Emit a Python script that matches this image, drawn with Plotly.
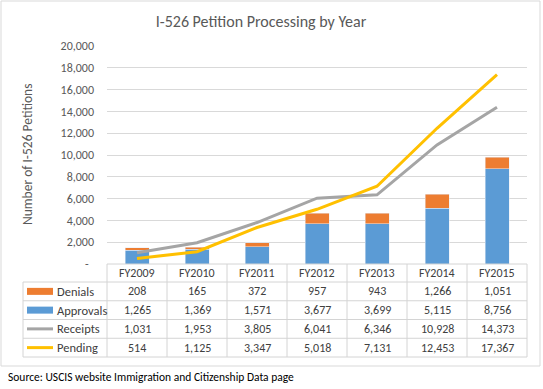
import plotly.graph_objects as go

categories = ["FY2009", "FY2010", "FY2011", "FY2012", "FY2013", "FY2014", "FY2015"]
denials = [208, 165, 372, 957, 943, 1266, 1051]
approvals = [1265, 1369, 1571, 3677, 3699, 5115, 8756]
receipts = [1031, 1953, 3805, 6041, 6346, 10928, 14373]
pending = [514, 1125, 3347, 5018, 7131, 12453, 17367]
ytick_vals = list(range(0, 20001, 2000))
ytick_text = ["-\u00a0\u00a0"] + [f"{v:,}" for v in ytick_vals[1:]]

W, H = 543, 389
L, R, T, B = 107, 527, 46, 264
FONT = "Carlito, Calibri, Liberation Sans, Arial, sans-serif"
TXT = "#404040"
GRID = "#d9d9d9"
BORDER = "#d4d4d4"

def xp(px):
    return (px - L) / (R - L)

def yp(py):
    return (B - py) / (B - T)

fig = go.Figure()
fig.add_trace(go.Bar(x=categories, y=approvals, name="Approvals", marker_color="#5b9bd5", width=0.4))
fig.add_trace(go.Bar(x=categories, y=denials, name="Denials", marker_color="#ed7d31", width=0.4))
fig.add_trace(go.Scatter(x=categories, y=receipts, name="Receipts", mode="lines",
                         line=dict(color="#a5a5a5", width=3)))
fig.add_trace(go.Scatter(x=categories, y=pending, name="Pending", mode="lines",
                         line=dict(color="#ffc000", width=3)))

shapes = []
annotations = []

# outer frame
shapes.append(dict(type="rect", xref="paper", yref="paper", x0=xp(1), x1=xp(540), y0=yp(1), y1=yp(366),
                   line=dict(color=GRID, width=1), fillcolor="rgba(0,0,0,0)", layer="below"))

# table geometry
row_edges = [264, 282, 300.75, 319.5, 338.25, 357]
tbl_left = 23
n = len(categories)
shapes.append(dict(type="line", xref="paper", yref="paper", x0=0, x1=1, y0=yp(row_edges[0]), y1=yp(row_edges[0]),
                   line=dict(color=BORDER, width=1)))
for e in row_edges[1:]:
    shapes.append(dict(type="line", xref="paper", yref="paper", x0=xp(tbl_left), x1=1, y0=yp(e), y1=yp(e),
                       line=dict(color=BORDER, width=1)))
for k in range(n + 1):
    shapes.append(dict(type="line", xref="paper", yref="paper", x0=k / n, x1=k / n,
                       y0=yp(row_edges[0]), y1=yp(row_edges[-1]), line=dict(color=BORDER, width=1)))
shapes.append(dict(type="line", xref="paper", yref="paper", x0=xp(tbl_left), x1=xp(tbl_left),
                   y0=yp(row_edges[1]), y1=yp(row_edges[-1]), line=dict(color=BORDER, width=1)))

# header
hy = (row_edges[0] + row_edges[1]) / 2
for c in categories:
    annotations.append(dict(x=c, xref="x", y=yp(hy), yref="paper", text=c, showarrow=False,
                            font=dict(family=FONT, size=12, color=TXT), xanchor="center", yanchor="middle"))

rows = [("Denials", denials, "#ed7d31", "rect"),
        ("Approvals", approvals, "#5b9bd5", "rect"),
        ("Receipts", receipts, "#a5a5a5", "line"),
        ("Pending", pending, "#ffc000", "line")]
for i, (label, vals, color, kind) in enumerate(rows):
    cy = (row_edges[i + 1] + row_edges[i + 2]) / 2
    if kind == "rect":
        shapes.append(dict(type="rect", xref="paper", yref="paper", x0=xp(27), x1=xp(53),
                           y0=yp(cy - 3.5), y1=yp(cy + 3.5), fillcolor=color, line=dict(width=0)))
    else:
        shapes.append(dict(type="line", xref="paper", yref="paper", x0=xp(27), x1=xp(53),
                           y0=yp(cy), y1=yp(cy), line=dict(color=color, width=3)))
    annotations.append(dict(x=xp(55), xref="paper", y=yp(cy), yref="paper", text=label, showarrow=False,
                            font=dict(family=FONT, size=12.5, color=TXT), xanchor="left", yanchor="middle"))
    for c, v in zip(categories, vals):
        annotations.append(dict(x=c, xref="x", y=yp(cy), yref="paper", text=f"{v:,}", showarrow=False,
                                font=dict(family=FONT, size=12, color=TXT), xanchor="center", yanchor="middle"))

# y axis title
annotations.append(dict(x=xp(27), xref="paper", y=yp(155), yref="paper", text="Number of I-526 Petitions",
                        textangle=-90, showarrow=False, font=dict(family=FONT, size=13.5, color="#595959"),
                        xanchor="center", yanchor="middle"))
# source
annotations.append(dict(x=xp(6), xref="paper", y=yp(377), yref="paper",
                        text="Source: USCIS website Immigration and Citizenship Data page", showarrow=False,
                        font=dict(family=FONT, size=11.5, color="#000000"), xanchor="left", yanchor="middle"))

fig.update_layout(
    width=W, height=H,
    margin=dict(l=L, r=W - R, t=T, b=H - B, pad=0),
    paper_bgcolor="white", plot_bgcolor="white",
    barmode="stack", bargap=0.6, showlegend=False,
    title=dict(text="I-526 Petition Processing by Year", x=261 / W, xanchor="center",
               y=1 - 21 / H, yanchor="middle", yref="container",
               font=dict(family=FONT, size=16, color="#595959")),
    xaxis=dict(type="category", range=[-0.5, n - 0.5], showticklabels=False, showgrid=False,
               zeroline=False, showline=False, ticks=""),
    yaxis=dict(range=[0, 20000], tickvals=ytick_vals, ticktext=ytick_text, showgrid=True,
               gridcolor=GRID, gridwidth=1, zeroline=False, showline=False, ticks="",
               ticklabelstandoff=12, tickfont=dict(family=FONT, size=12, color="#595959")),
    shapes=shapes, annotations=annotations,
    font=dict(family=FONT),
)

fig.write_html("out.html", config={"displayModeBar": False},
               post_script="document.body.style.margin='0';")
